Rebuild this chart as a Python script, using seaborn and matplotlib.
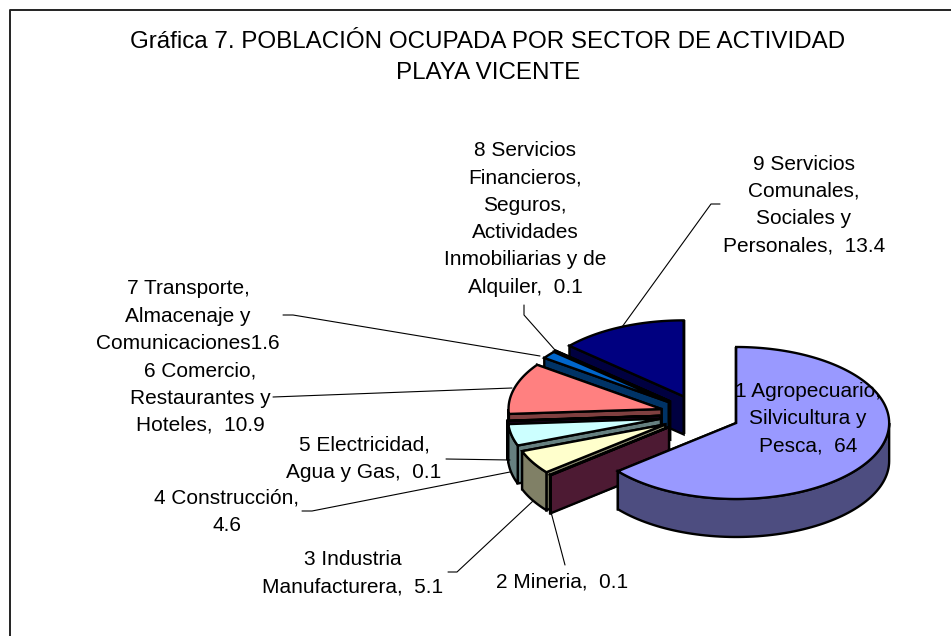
import numpy as np
import seaborn as sns
import matplotlib.pyplot as plt

# sector data, clockwise from 12 o'clock
sector_labels = [
    '1 Agropecuario,\nSilvicultura y\nPesca,  64',
    '2 Mineria,  0.1',
    '3 Industria\nManufacturera,  5.1',
    '4 Construcción,\n4.6',
    '5 Electricidad,\nAgua y Gas,  0.1',
    '6 Comercio,\nRestaurantes y\nHoteles,  10.9',
    '7 Transporte,\nAlmacenaje y\nComunicaciones1.6',
    '8 Servicios\nFinancieros,\nSeguros,\nActividades\nInmobiliarias y de\nAlquiler,  0.1',
    '9 Servicios\nComunales,\nSociales y\nPersonales,  13.4',
]
sector_values = [64, 0.1, 5.1, 4.6, 0.1, 10.9, 1.6, 0.1, 13.4]
sector_colors = ['#9999FF', '#993366', '#FFFFCC', '#CCFFFF', '#660066',
                 '#FF8080', '#0066CC', '#CCCCFF', '#000080']
title_text = 'Gráfica 7. POBLACIÓN OCUPADA POR SECTOR DE ACTIVIDAD\nPLAYA VICENTE'

# label centres and leader lines in pixels (None = no leader)
label_pos = [(808, 419), (562, 582), (353, 573), (227, 512), (364, 459),
             (200, 398), (188, 316), (525, 219), (804, 205)]
leaders = [None,
           [(565, 565), (551, 512)],
           [(448, 572), (457, 572), (533, 501)],
           [(302, 511), (312, 511), (510, 472)],
           [(446, 459), (510, 460)],
           [(273, 397), (512, 388)],
           [(283, 315), (293, 315), (540, 356)],
           [(524, 305), (524, 315), (555, 350)],
           [(720, 204), (711, 204), (622, 327)]]

# pie geometry
CX, CY = 700, 414.5
RX, RY = 153, 76
DEPTH = 38
EXPLODE = 40
EDGE = 1.7


def rim_points(px, py, t):
    t = np.radians(t)
    return px + RX * np.sin(t), py - RY * np.cos(t)


def draw_slice(ax, t0, t1, color):
    mid = np.radians((t0 + t1) / 2)
    px = CX + EXPLODE * np.sin(mid)
    py = CY - EXPLODE * (RY / RX) * np.cos(mid)
    dark = tuple(c / 2 for c in color)
    kw = dict(edgecolor='black', linewidth=EDGE, joinstyle='miter')

    # flat sides first, the far one goes under
    for t in (t1, t0):
        ex, ey = rim_points(px, py, t)
        ax.fill([px, ex, ex, px], [py, ey, ey + DEPTH, py + DEPTH], facecolor=dark, **kw)

    # outer wall, only the part facing the viewer
    a, b = max(t0, 90), min(t1, 270)
    if b > a:
        ts = np.linspace(a, b, 80)
        rx, ry = rim_points(px, py, ts)
        ax.fill(np.r_[rx, rx[::-1]], np.r_[ry, ry[::-1] + DEPTH], facecolor=dark, **kw)

    # top
    ts = np.linspace(t0, t1, max(int(t1 - t0) * 2, 3))
    rx, ry = rim_points(px, py, ts)
    ax.fill(np.r_[px, rx], np.r_[py, ry], facecolor=color, **kw)


def main():
    sns.set_theme(style='white')
    plt.rcParams['font.family'] = ['Liberation Sans', 'DejaVu Sans']
    palette = sns.color_palette(sector_colors)

    fig = plt.figure(figsize=(9.51, 6.36), dpi=100)
    ax = fig.add_axes([0, 0, 1, 1])
    ax.set_xlim(0, 951)
    ax.set_ylim(636, 0)
    ax.axis('off')

    # chart area border, runs off the image at right and bottom
    ax.plot([10, 10, 960], [650, 10, 10], color='#222222', lw=1.4)

    ax.text(488, 57.5, title_text, ha='center', va='center', fontsize=17.4,
            linespacing=1.55, color='black')

    edges = np.r_[0, np.cumsum(sector_values)] / sum(sector_values) * 360
    for i in range(len(sector_values) - 1, -1, -1):
        draw_slice(ax, edges[i], edges[i + 1], palette[i])

    for label, pos, leader in zip(sector_labels, label_pos, leaders):
        if leader is not None:
            xs, ys = zip(*leader)
            ax.plot(xs, ys, color='black', lw=0.8)
        ax.text(pos[0], pos[1], label, ha='center', va='center', fontsize=15,
                linespacing=1.55, color='black')

    fig.savefig('out.png', dpi=100)
    plt.close(fig)


if __name__ == '__main__':
    main()
